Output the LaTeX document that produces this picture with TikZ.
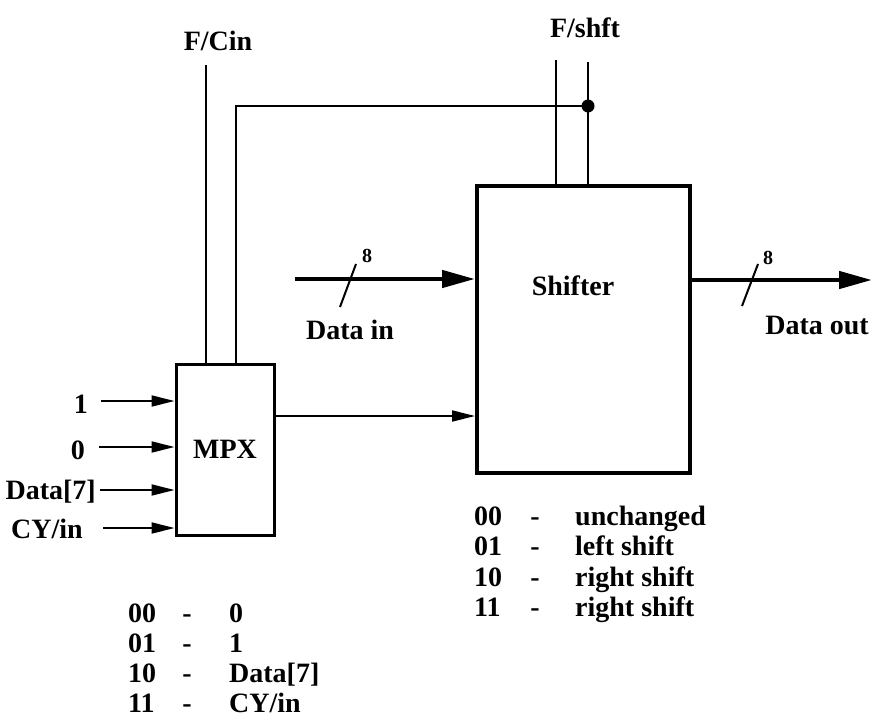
\documentclass[tikz,border=0pt]{standalone}
\usepackage{fontspec}
\setmainfont{Liberation Serif}
\usetikzlibrary{arrows.meta}

\begin{document}
\begin{tikzpicture}[x=1pt,y=-1pt,font=\fontsize{28}{30}\selectfont\bfseries,
  wire/.style={line width=2pt},
  arr/.style={wire,-{Triangle[length=23pt,width=11pt]}},
  bus/.style={line width=4.5pt,-{Triangle[length=33pt,width=17pt]}},
  lbl/.style={inner sep=0pt},
  small/.style={inner sep=0pt,font=\fontsize{20}{22}\selectfont\bfseries}]
\useasboundingbox (0,0) rectangle (874,720);
% blocks
\node (mpx) [draw,line width=3pt,inner sep=0pt,minimum width=98pt,minimum height=171pt] at (225,449.5) {MPX};
\node (shifter) [draw,line width=4pt,inner sep=0pt,minimum width=213pt,minimum height=287pt] at (583.5,329) {};
\node (shtxt) [lbl,anchor=base] at (573,295) {Shifter};
% mpx inputs
\node (l1) [lbl,anchor=base east] at (88,413) {1};
\node (l0) [lbl,anchor=base east] at (85,459) {0};
\node (ld7) [lbl,anchor=base east] at (96,499) {Data[7]};
\node (lcy) [lbl,anchor=base east] at (83,538) {CY/in};
\coordinate (in1) at (101,401);
\coordinate (in0) at (99,447);
\coordinate (ind7) at (100,490);
\coordinate (incy) at (103,528);
\draw[arr] (in1) -- (in1 -| mpx.west);
\draw[arr] (in0) -- (in0 -| mpx.west);
\draw[arr] (ind7) -- (ind7 -| mpx.west);
\draw[arr] (incy) -- (incy -| mpx.west);
% control lines
\node (lfcin) [lbl,anchor=base] at (218,50) {F/Cin};
\node (lfshft) [lbl,anchor=base] at (585,37) {F/shft};
\coordinate (fc) at (206,65);
\coordinate (fbx) at (236,0);
\coordinate (sh1) at (556,60);
\coordinate (sh2) at (588,62);
\node (jn) [circle,fill,inner sep=0pt,minimum size=13pt] at (588,106) {};
\draw[wire] (fc) -- (fc |- mpx.north);
\draw[wire] (mpx.north -| fbx) |- (jn.center);
\draw[wire] (sh1) -- (sh1 |- shifter.north);
\draw[wire] (sh2) -- (sh2 |- shifter.north);
% mpx to shifter
\coordinate (mo) at (274,416);
\draw[arr] (mo) -- (mo -| shifter.west);
% data bus
\coordinate (din) at (295,279);
\coordinate (dout) at (872,280);
\draw[bus] (din) -- (din -| shifter.west);
\draw[bus] (dout -| shifter.east) -- (dout);
\draw[wire] (340,307) -- (356,264);
\draw[wire] (742,306) -- (758,264);
\node (w8in) [small,anchor=base] at (367,262) {8};
\node (w8out) [small,anchor=base] at (768,264) {8};
\node (ldin) [lbl,anchor=base] at (350,339) {Data in};
\node (ldout) [lbl,anchor=base] at (817,334) {Data out};
% shifter codes
\node (sc1) [lbl,anchor=base west] at (474,525) {00};
\node (sd1) [lbl,anchor=base] at (535,525) {-};
\node (st1) [lbl,anchor=base west] at (575,525) {unchanged};
\node (sc2) [lbl,anchor=base west] at (474,555) {01};
\node (sd2) [lbl,anchor=base] at (535,555) {-};
\node (st2) [lbl,anchor=base west] at (575,555) {left shift};
\node (sc3) [lbl,anchor=base west] at (474,586) {10};
\node (sd3) [lbl,anchor=base] at (535,586) {-};
\node (st3) [lbl,anchor=base west] at (575,586) {right shift};
\node (sc4) [lbl,anchor=base west] at (474,616) {11};
\node (sd4) [lbl,anchor=base] at (535,616) {-};
\node (st4) [lbl,anchor=base west] at (575,616) {right shift};
% mpx codes
\node (mc1) [lbl,anchor=base west] at (128,622) {00};
\node (md1) [lbl,anchor=base] at (187,622) {-};
\node (mt1) [lbl,anchor=base west] at (229,622) {0};
\node (mc2) [lbl,anchor=base west] at (128,652) {01};
\node (md2) [lbl,anchor=base] at (187,652) {-};
\node (mt2) [lbl,anchor=base west] at (229,652) {1};
\node (mc3) [lbl,anchor=base west] at (128,682) {10};
\node (md3) [lbl,anchor=base] at (187,682) {-};
\node (mt3) [lbl,anchor=base west] at (229,682) {Data[7]};
\node (mc4) [lbl,anchor=base west] at (128,712) {11};
\node (md4) [lbl,anchor=base] at (187,712) {-};
\node (mt4) [lbl,anchor=base west] at (229,712) {CY/in};
\end{tikzpicture}
\end{document}
